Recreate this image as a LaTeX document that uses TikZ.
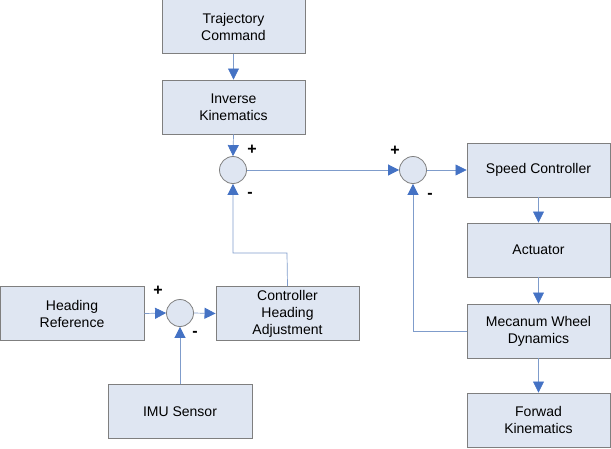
\documentclass[tikz,border=0pt]{standalone}
\usepackage{fontspec}
\setmainfont{Liberation Sans}
\usetikzlibrary{arrows.meta}
\definecolor{boxfill}{HTML}{DFE6F2}
\definecolor{boxline}{HTML}{7F7F7F}
\definecolor{wire}{HTML}{7F9CCB}
\definecolor{tipblue}{HTML}{4472C4}
\tikzset{
  blk/.style={draw=boxline, fill=boxfill, line width=0.9pt, minimum width=143pt, minimum height=54pt, inner sep=0pt, align=center, font=\fontsize{14}{17}\selectfont},
  sumnode/.style={draw=boxline, fill=boxfill, line width=0.8pt, circle, minimum size=27pt, inner sep=0pt},
  sig/.style={draw=wire, line width=0.7pt, -{Triangle[length=11pt,width=11pt,color=tipblue]}},
  sgn/.style={font=\fontsize{16}{16}\selectfont\bfseries, inner sep=0pt}
}
\begin{document}
\begin{tikzpicture}[x=1pt,y=-1pt]
\useasboundingbox (0,0) rectangle (611,448);
% boxes
\node[blk] (traj) at (233.5,26.5) {Trajectory\\Command};
\node[blk] (inv) at (233.5,107) {Inverse\\Kinematics};
\node[sumnode] (s1) at (233,170) {};
\node[sumnode] (s2) at (413,170) {};
\node[blk] (speed) at (538.5,170) {Speed Controller};
\node[blk] (act) at (538.5,250) {Actuator};
\node[blk] (mec) at (538.5,331) {Mecanum Wheel\\Dynamics};
\node[blk] (fwd) at (538.5,420) {Forwad\\Kinematics};
\node[blk, minimum width=144pt] (head) at (72,313.5) {Heading\\Reference};
\node[sumnode] (s3) at (180,313) {};
\node[blk] (chad) at (287.5,313.5) {Controller\\Heading\\Adjustment};
\node[blk, minimum width=144pt] (imu) at (180,411.5) {IMU Sensor};
% signs
\node[sgn] (p1) at (252,150) {+};
\node[sgn] (m1) at (250,195) {-};
\node[sgn] (p2) at (395,151) {+};
\node[sgn] (m2) at (430,196) {-};
\node[sgn] (p3) at (158,291) {+};
\node[sgn] (m3) at (195,334) {-};
% connectors
\draw[sig] (traj.south) -- (inv.north);
\draw[sig] (inv.south) -- (s1.north);
\draw[sig] (s1.east) -- (s2.west);
\draw[sig] (s2.east) -- (speed.west);
\draw[sig] (speed.south) -- (act.north);
\draw[sig] (act.south) -- (mec.north);
\draw[sig] (mec.south) -- (fwd.north);
\draw[sig] (mec.west) -| (s2.south);
\draw[sig] (head.east) -- (s3.west);
\draw[sig] (s3.east) -- (chad.west);
\draw[sig] (imu.north) -- (s3.south);
\coordinate (fbk) at (287,253);
\draw[sig] (chad.north) -- (fbk) -| (s1.south);
\end{tikzpicture}
\end{document}
